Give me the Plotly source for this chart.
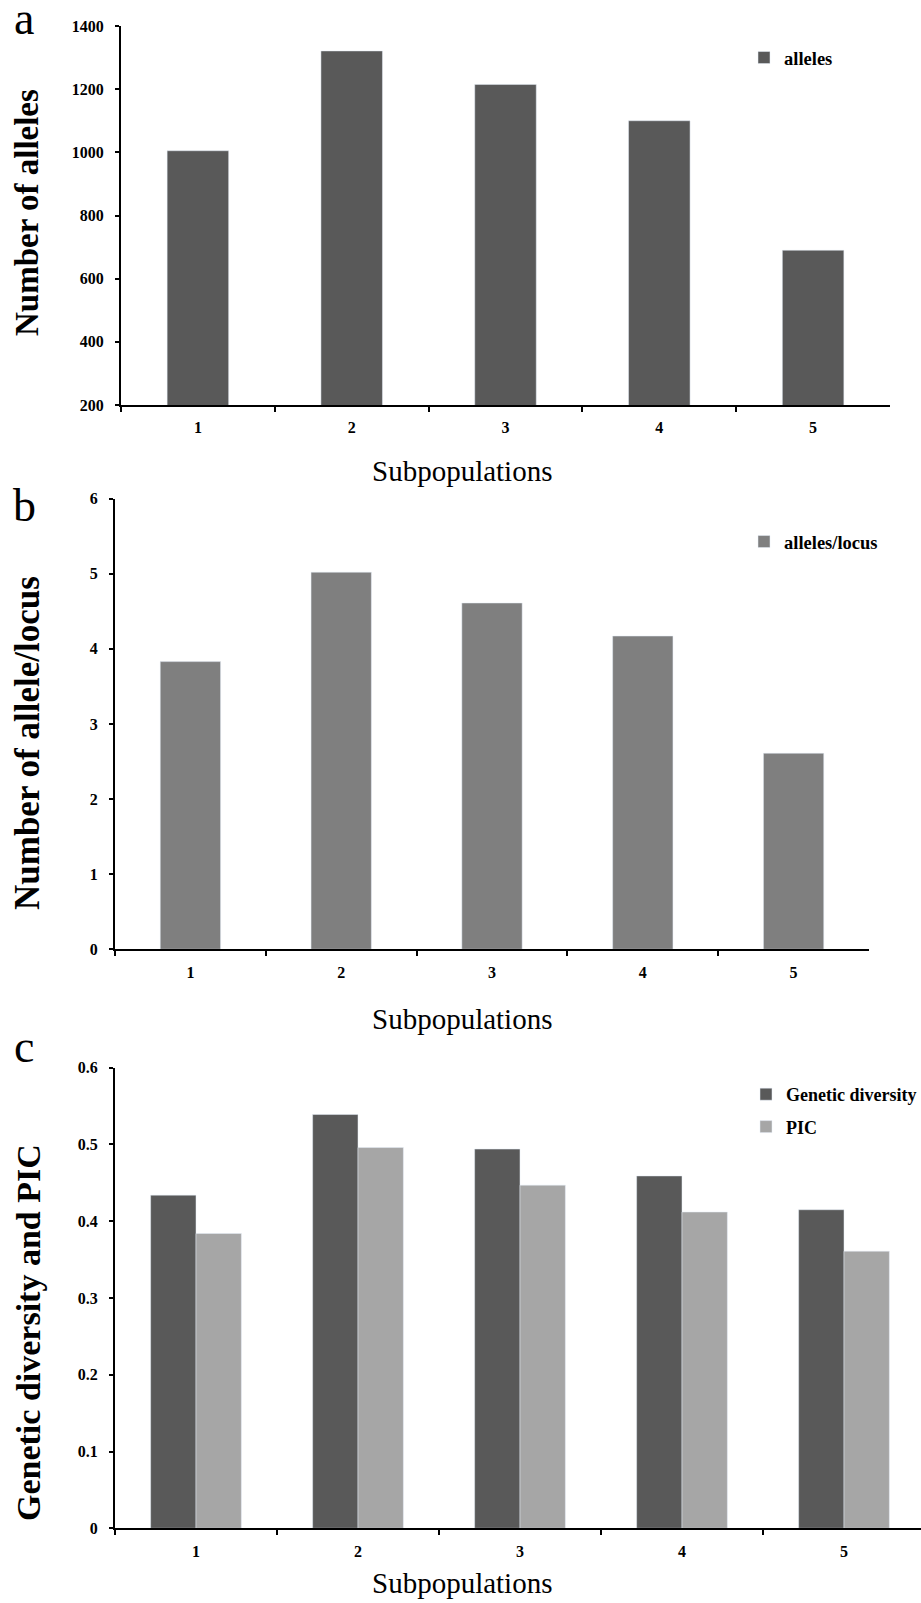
import plotly.graph_objects as go

# ---------------- data ----------------
subpops = ["1", "2", "3", "4", "5"]
alleles = [1005, 1321, 1215, 1100, 690]
alleles_per_locus = [3.83, 5.02, 4.61, 4.17, 2.61]
genetic_diversity = [0.434, 0.539, 0.494, 0.459, 0.415]
pic = [0.384, 0.496, 0.447, 0.412, 0.361]

W, H = 921, 1603
FONT = "Liberation Serif"


def fx(px):
    return px / W


def fy(py):
    return 1 - py / H


fig = go.Figure()

fig.add_trace(go.Bar(x=subpops, y=alleles, name="alleles", marker_color="#595959",
                     width=0.4, xaxis="x", yaxis="y", legend="legend", showlegend=True))
fig.add_trace(go.Bar(x=subpops, y=alleles_per_locus, name="alleles/locus", marker_color="#7f7f7f",
                     width=0.4, xaxis="x2", yaxis="y2", legend="legend2", showlegend=True))
fig.add_trace(go.Bar(x=subpops, y=genetic_diversity, name="Genetic diversity", marker_color="#595959",
                     xaxis="x3", yaxis="y3", legend="legend3", legendgroup="gd", showlegend=True))
fig.add_trace(go.Bar(x=subpops, y=pic, name="PIC", marker_color="#a6a6a6",
                     xaxis="x3", yaxis="y3", legend="legend3", legendgroup="pic", showlegend=True))

tickfont = dict(family=FONT, size=16, color="black", weight="bold")

xcommon = dict(type="category", showline=True, linecolor="black", linewidth=2,
               ticks="outside", tickson="boundaries", ticklen=5, tickwidth=2, tickcolor="black",
               showgrid=False, zeroline=False, tickfont=tickfont, ticklabelstandoff=7,
               automargin=False)
ycommon = dict(showline=True, linecolor="black", linewidth=2, ticks="outside", ticklen=4,
               tickwidth=2, tickcolor="black", showgrid=False, zeroline=False,
               tickfont=tickfont, ticklabelstandoff=8, automargin=False)

# panel positions (pixels)
pa = dict(x0=121, x1=890, y0=26, y1=405)
pb = dict(x0=115, x1=869, y0=498.6, y1=949.3)
pc = dict(x0=115, x1=921, y0=1067.7, y1=1528.3)
c_cat = 162.0
c_end = -0.5 + (pc["x1"] - pc["x0"]) / c_cat

fig.update_layout(
    xaxis=dict(xcommon, domain=[fx(pa["x0"]), fx(pa["x1"])], anchor="y", range=[-0.5, 4.5]),
    yaxis=dict(ycommon, domain=[fy(pa["y1"]), fy(pa["y0"])], anchor="x", range=[200, 1400], dtick=200),
    xaxis2=dict(xcommon, domain=[fx(pb["x0"]), fx(pb["x1"])], anchor="y2", range=[-0.5, 4.5]),
    yaxis2=dict(ycommon, domain=[fy(pb["y1"]), fy(pb["y0"])], anchor="x2", range=[0, 6], dtick=1),
    xaxis3=dict(xcommon, domain=[fx(pc["x0"]), fx(pc["x1"])], anchor="y3", range=[-0.5, c_end]),
    yaxis3=dict(ycommon, domain=[fy(pc["y1"]), fy(pc["y0"])], anchor="x3", range=[0, 0.6], dtick=0.1),
    barmode="group",
    bargap=0.44,
    bargroupgap=0,
    width=W, height=H,
    margin=dict(l=0, r=0, t=0, b=0, pad=0, autoexpand=False),
    showlegend=True,
    paper_bgcolor="white", plot_bgcolor="white",
    font=dict(family=FONT, color="black"),
)

legfont = dict(family=FONT, size=18.5, color="black", weight="bold")
fig.update_layout(
    legend=dict(x=fx(744), y=fy(39), xanchor="left", yanchor="top", font=legfont,
                bgcolor="rgba(0,0,0,0)", itemwidth=30),
    legend2=dict(x=fx(744), y=fy(523), xanchor="left", yanchor="top", font=legfont,
                 bgcolor="rgba(0,0,0,0)", itemwidth=30),
    legend3=dict(x=fx(922), y=fy(1076), xanchor="right", yanchor="top",
                 font=dict(legfont, size=18),
                 bgcolor="rgba(0,0,0,0)", itemwidth=30, traceorder="grouped", tracegroupgap=6),
)

ann = []
# x-axis titles
for cx, cy in [(462, 471), (462, 1019), (462, 1583)]:
    ann.append(dict(text="Subpopulations", x=fx(cx), y=fy(cy), xref="paper", yref="paper",
                    showarrow=False, xanchor="center", yanchor="middle",
                    font=dict(family=FONT, size=29, color="black")))
# y-axis titles
for txt, cx, cy, fs in [("Number of alleles", 27, 213, 33), ("Number of allele/locus", 27, 743, 35),
                        ("Genetic diversity and PIC", 28, 1333, 34)]:
    ann.append(dict(text=txt, x=fx(cx), y=fy(cy), xref="paper", yref="paper", textangle=-90,
                    showarrow=False, xanchor="center", yanchor="middle",
                    font=dict(family=FONT, size=fs, color="black", weight="bold")))
# panel letters
for txt, cx, cy in [("a", 24, 19), ("b", 24, 505), ("c", 24, 1046)]:
    ann.append(dict(text=txt, x=fx(cx), y=fy(cy), xref="paper", yref="paper",
                    showarrow=False, xanchor="center", yanchor="middle",
                    font=dict(family=FONT, size=46, color="black")))
fig.update_layout(annotations=ann)

# remove the page's default body margin and scrollbars so the figure fills the window exactly
page_fix = ("document.body.style.margin='0';"
            "document.documentElement.style.overflow='hidden';"
            "document.body.style.overflow='hidden';")

fig.write_html("out.html", post_script=page_fix, config={"displayModeBar": False})
